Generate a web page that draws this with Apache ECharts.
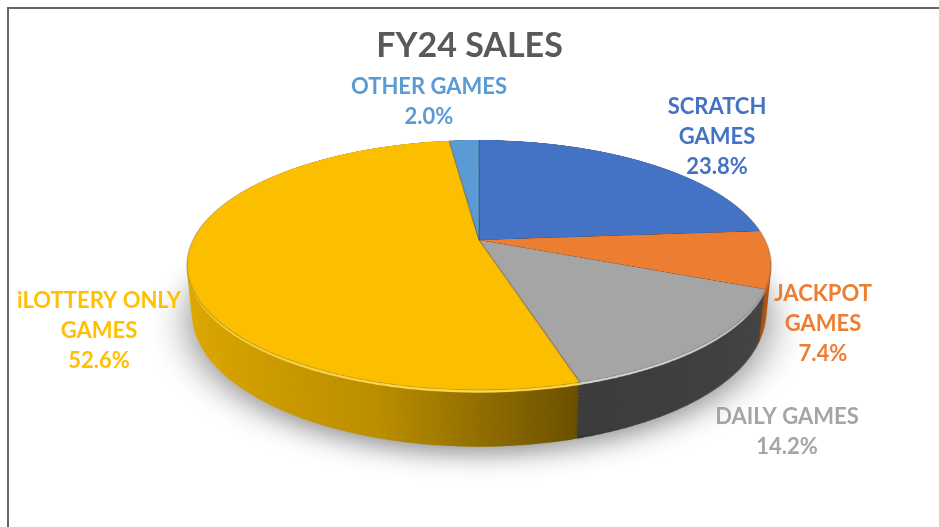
<!DOCTYPE html>
<html>
<head>
<meta charset="utf-8">
<script src="https://cdn.jsdelivr.net/npm/echarts@6/dist/echarts.min.js"></script>
<style>
  html, body { margin: 0; padding: 0; background: #fff; overflow: hidden; width: 939px; height: 527px; }
  #frame { position: absolute; left: 7px; top: 7px; width: 960px; height: 560px; border: 2px solid #666; box-sizing: border-box; }
  .layer { position: absolute; left: 0; top: -80px; width: 939px; height: 680px; transform-origin: 479px 320px; }
  #labels { position: absolute; left: 0; top: 0; width: 939px; height: 527px; }
</style>
</head>
<body>
<div id="frame"></div>
<div id="stack"></div>
<div id="labels"></div>
<script>
  // data, clockwise from 12 o'clock
  var categories = ["SCRATCH\nGAMES", "JACKPOT\nGAMES", "DAILY GAMES", "iLOTTERY ONLY\nGAMES", "OTHER GAMES"];
  var shares = [23.8, 7.4, 14.2, 52.6, 2.0];

  var topColors = ["#4472c4", "#ed7d31", "#a5a5a5", "#fcbf00", "#5b9bd5"];
  var rimColors = ["#7097dc", "#f8aa78", "#d2d2d2", "#ffd64a", "#95c0e8"];
  var sideColors = [
    "#2f5597",
    "#b0530f",
    { type: "linear", x: 0, y: 0, x2: 0, y2: 1,
      colorStops: [{ offset: 0, color: "#4a4a4a" }, { offset: 1, color: "#3c3c3c" }] },
    { type: "linear", x: 0, y: 0, x2: 1, y2: 0,
      colorStops: [{ offset: 0, color: "#e0a900" }, { offset: 0.55, color: "#bb8e00" }, { offset: 1, color: "#6a4f00" }] },
    "#3f78ad"
  ];
  var labelColors = ["#4472c4", "#ed7d31", "#a5a5a5", "#ffc000", "#5b9bd5"];
  var labelPos = [[717, 137], [823, 324], [787, 432], [99, 331], [429, 102]];

  var cx = 479, cy = 320, r = 286, depth = 54, steps = 16;
  var tilt = "perspective(1298px) rotateX(65.2deg)";

  function addLayer(z, colors, style, dpr) {
    var div = document.createElement("div");
    div.className = "layer";
    div.style.transform = tilt + " translateZ(" + z + "px)";
    document.getElementById("stack").appendChild(div);
    var chart = echarts.init(div, null, { renderer: "canvas", devicePixelRatio: dpr || 1 });
    chart.setOption({
      backgroundColor: "transparent",
      animation: false,
      series: [{
        type: "pie",
        silent: true,
        radius: r,
        center: [cx, cy],
        startAngle: 90,
        label: { show: false },
        labelLine: { show: false },
        itemStyle: style || { borderWidth: 0 },
        data: shares.map(function (v, i) {
          return { value: v, name: categories[i], itemStyle: { color: colors[i] } };
        })
      }]
    });
  }

  // deepest first, so the top face ends up painted last
  addLayer(-depth, sideColors, { borderWidth: 0, shadowColor: "rgba(0,0,0,0.45)", shadowBlur: 36, shadowOffsetY: 10 });
  for (var i = steps - 1; i >= 1; i--) addLayer(-depth * i / steps, sideColors);
  addLayer(-2.5, rimColors);
  addLayer(0, topColors, { borderWidth: 1, borderColor: "rgba(40,40,40,0.35)" }, 2);

  var chart_labels = echarts.init(document.getElementById("labels"), null, { renderer: "canvas" });
  chart_labels.setOption({
    backgroundColor: "transparent",
    animation: false,
    title: {
      text: "FY24 SALES",
      left: "center",
      top: 24,
      textStyle: { fontSize: 34, fontWeight: "bold", color: "#595959", fontFamily: "Lato" }
    },
    series: [{
      type: "pie",
      silent: true,
      radius: 150,
      center: [cx, 265],
      startAngle: 90,
      itemStyle: { color: "rgba(0,0,0,0)" },
      labelLine: { show: false },
      label: {
        show: true,
        position: "outside",
        fontFamily: "Lato",
        fontWeight: "bold",
        fontSize: 22,
        lineHeight: 30,
        formatter: function (p) { return p.name + "\n" + p.value.toFixed(1) + "%"; }
      },
      labelLayout: function (p) {
        return { x: labelPos[p.dataIndex][0], y: labelPos[p.dataIndex][1], align: "center", verticalAlign: "middle" };
      },
      data: shares.map(function (v, i) {
        return { value: v, name: categories[i], label: { color: labelColors[i] } };
      })
    }]
  });
</script>
</body>
</html>
